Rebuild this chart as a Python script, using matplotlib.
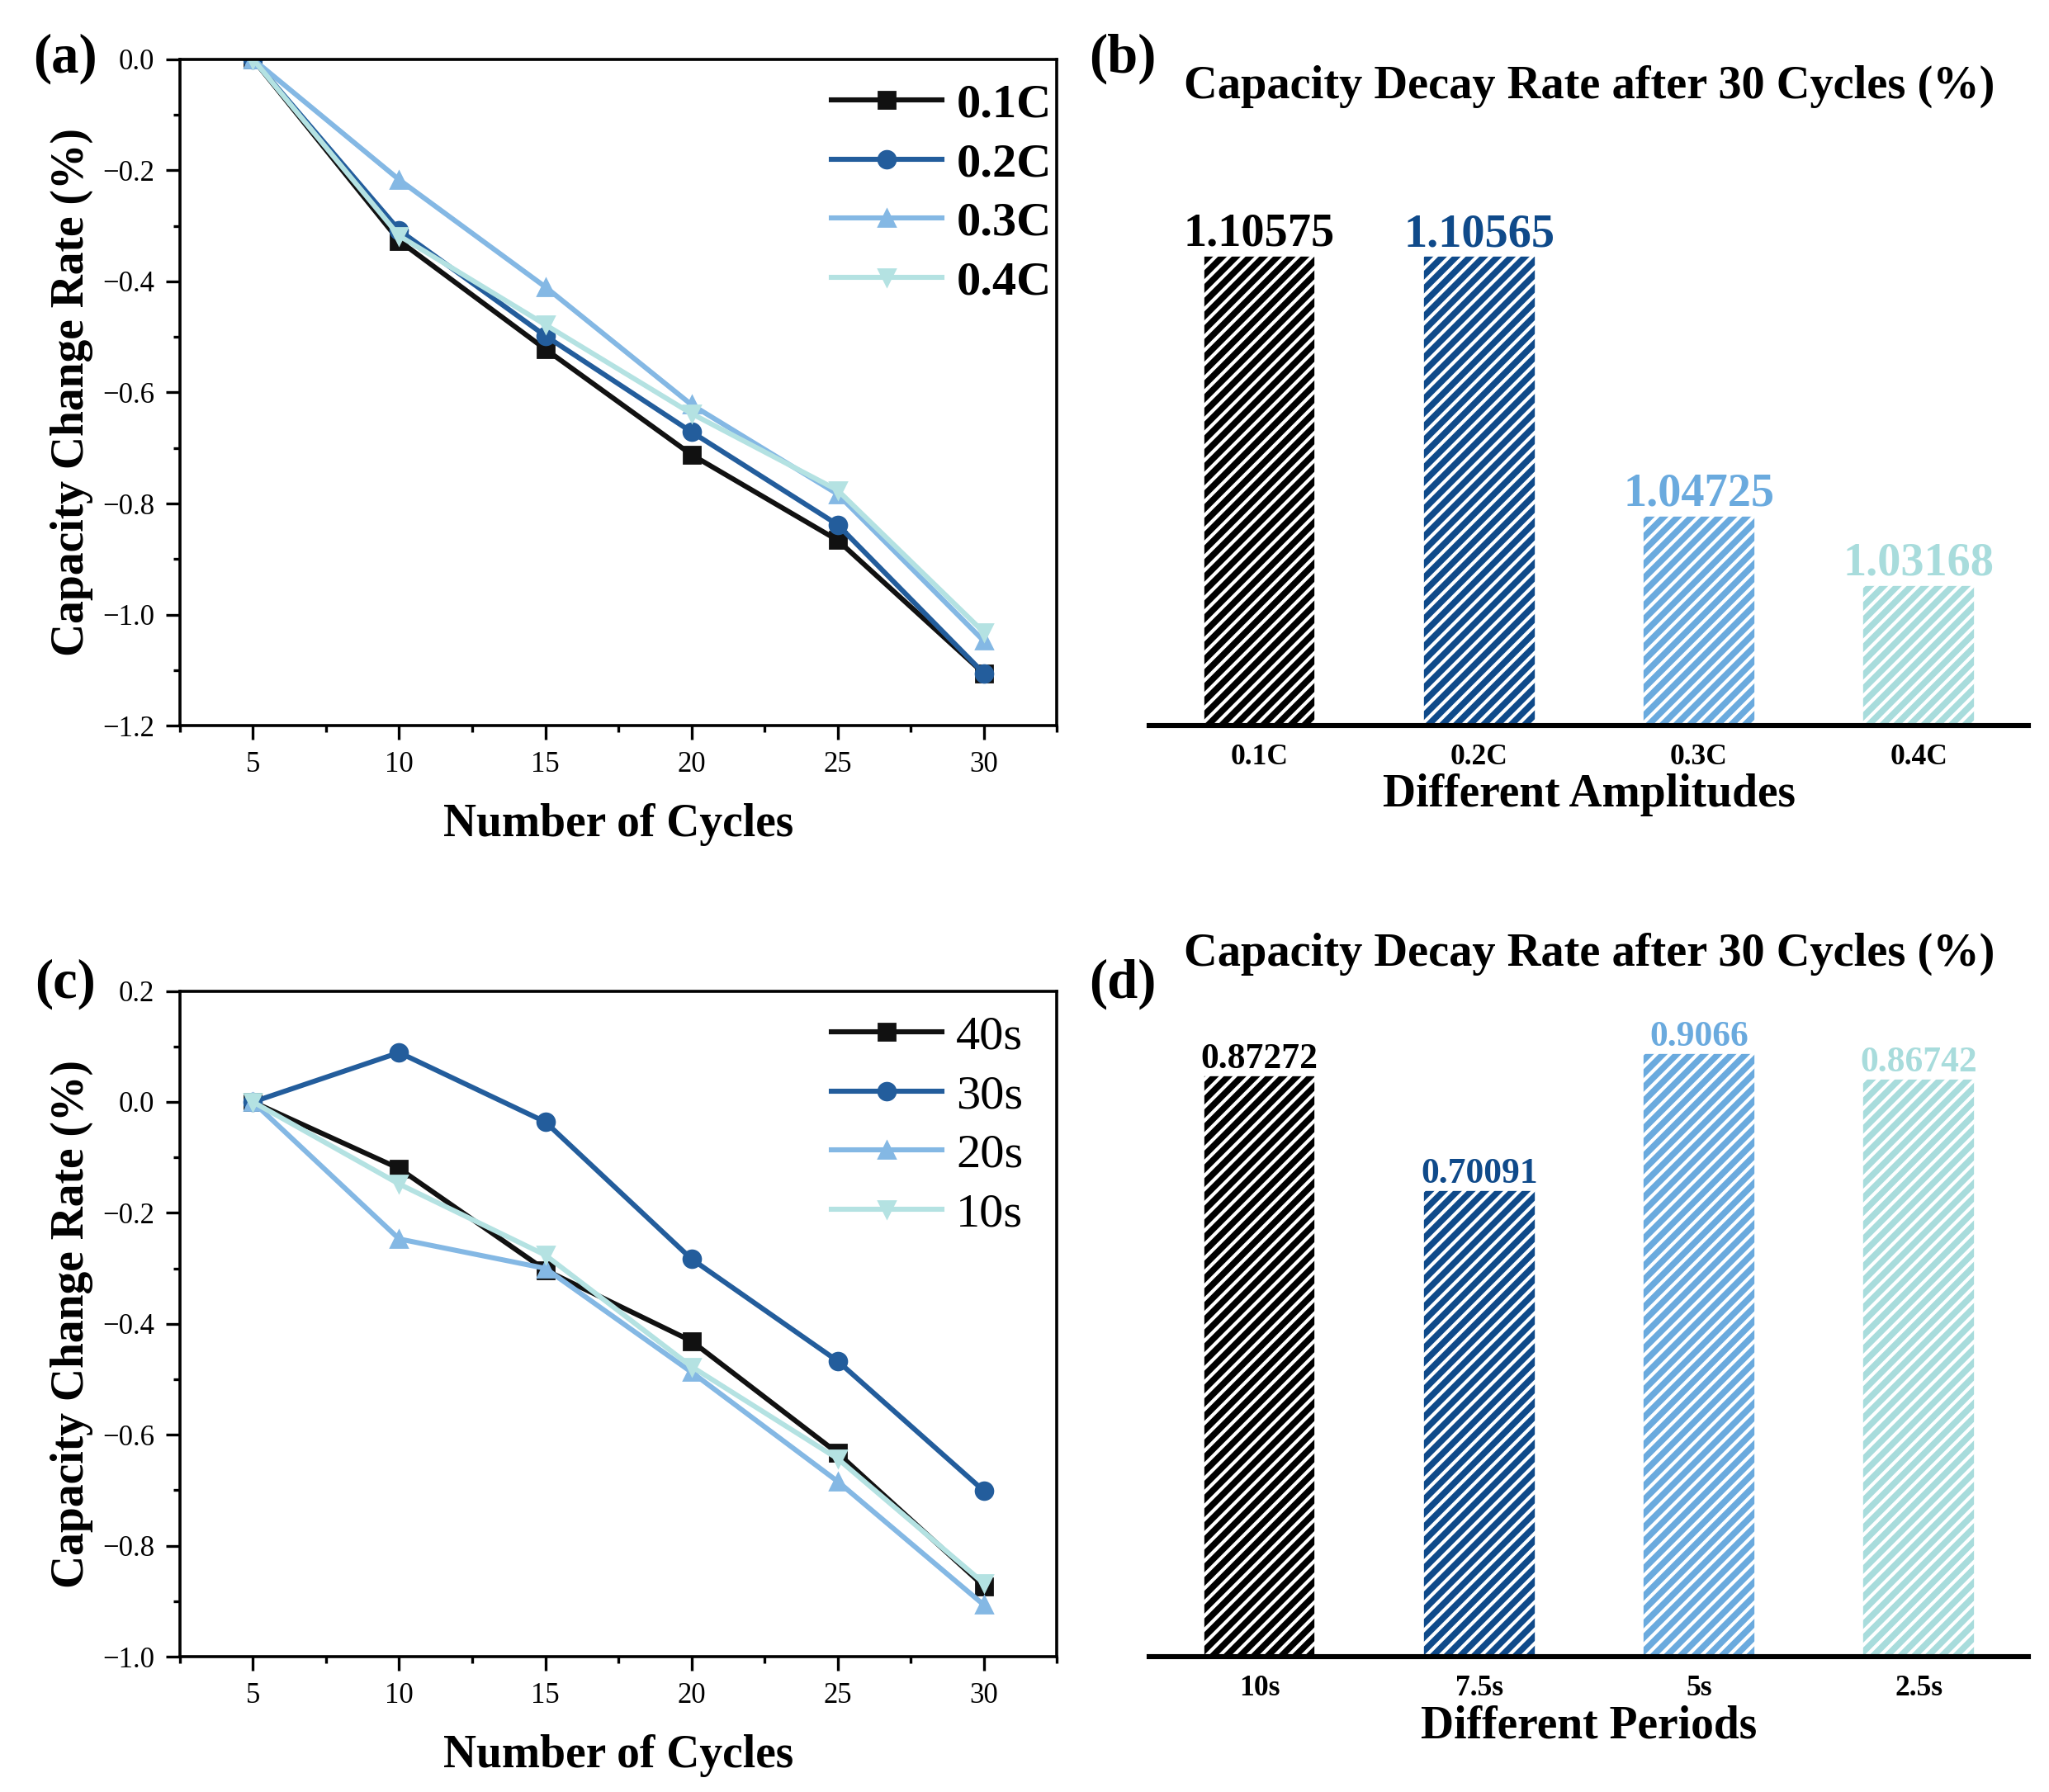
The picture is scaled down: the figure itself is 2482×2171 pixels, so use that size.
import numpy as np
import matplotlib
matplotlib.use('Agg')
import matplotlib.pyplot as plt
from matplotlib.ticker import MultipleLocator

plt.rcParams['font.family'] = ['Liberation Serif', 'DejaVu Serif']
plt.rcParams['hatch.color'] = 'white'
plt.rcParams['hatch.linewidth'] = 1.5

# ---- data ----
cycles = [5, 10, 15, 20, 25, 30]

amp_labels = ['0.1C', '0.2C', '0.3C', '0.4C']
amp_01 = [0.0, -0.327, -0.522, -0.712, -0.866, -1.10575]
amp_02 = [0.0, -0.308, -0.498, -0.671, -0.838, -1.10565]
amp_03 = [0.0, -0.217, -0.410, -0.622, -0.783, -1.04725]
amp_04 = [0.0, -0.318, -0.478, -0.638, -0.776, -1.03168]
amp_decay = [1.10575, 1.10565, 1.04725, 1.03168]

per_labels = ['40s', '30s', '20s', '10s']
per_40 = [0.0, -0.120, -0.303, -0.431, -0.633, -0.87272]
per_30 = [0.0, 0.089, -0.036, -0.283, -0.467, -0.70091]
per_20 = [0.0, -0.247, -0.300, -0.487, -0.684, -0.9066]
per_10 = [0.0, -0.148, -0.276, -0.477, -0.643, -0.86742]
per_bar_labels = ['10s', '7.5s', '5s', '2.5s']
per_decay = [0.87272, 0.70091, 0.9066, 0.86742]

line_colors = ['#111111', '#235d9c', '#84b8e4', '#b4e2e2']
bar_colors = ['#000000', '#0f4a8a', '#6aaade', '#a8dcdc']
markers = ['s', 'o', '^', 'v']


def line_panel(ax, series, labels, ylim, legend_bold):
    for s, lab, c, m in zip(series, labels, line_colors, markers):
        ax.plot(cycles, s, color=c, marker=m, markersize=7.5, lw=2.2, label=lab)
    ax.set_xlim(2.5, 32.5)
    ax.set_ylim(*ylim)
    ax.xaxis.set_major_locator(MultipleLocator(5))
    ax.xaxis.set_minor_locator(MultipleLocator(2.5))
    ax.yaxis.set_major_locator(MultipleLocator(0.2))
    ax.yaxis.set_minor_locator(MultipleLocator(0.1))
    ax.tick_params(which='major', direction='out', length=6, width=1.2, labelsize=12.5, pad=5)
    ax.tick_params(which='minor', direction='out', length=3, width=1.2)
    for sp in ax.spines.values():
        sp.set_linewidth(1.3)
    ax.set_xlabel('Number of Cycles', fontsize=20, fontweight='bold', labelpad=11)
    ax.set_ylabel('Capacity Change Rate (%)', fontsize=20, fontweight='bold', labelpad=4)
    ax.legend(loc='upper left', bbox_to_anchor=(0.715, 1.0), frameon=False,
              borderpad=0, handlelength=2.3, handletextpad=0.3, labelspacing=0.32,
              prop={'size': 21, 'weight': 'bold' if legend_bold else 'normal'})


def bar_panel(ax, values, ticklabels, ylim, xlabel, title, title_y, value_size):
    x = np.arange(len(values))
    ax.bar(x, values, width=0.51, color=bar_colors, edgecolor='white', linewidth=0.6,
           hatch='////')
    ax.set_xlim(-0.5, 3.5)
    ax.set_ylim(*ylim)
    for xi, v, c in zip(x, values, bar_colors):
        ax.text(xi, v, f'{v:g}', ha='center', va='bottom', color=c,
                fontsize=value_size, fontweight='bold')
    for sp in ['left', 'top', 'right']:
        ax.spines[sp].set_visible(False)
    ax.spines['bottom'].set_linewidth(2.2)
    ax.set_yticks([])
    ax.set_xticks(x)
    ax.set_xticklabels(ticklabels, fontsize=12.8, fontweight='bold')
    ax.tick_params(axis='x', length=0, pad=8)
    ax.set_xlabel(xlabel, fontsize=20, fontweight='bold', labelpad=1)
    ax.text(0.5, title_y, title, transform=ax.transAxes, ha='center', va='center',
            fontsize=20.3, fontweight='bold')


fig = plt.figure(figsize=(12.41, 10.855), dpi=200)
ax_a = fig.add_axes([0.0878, 0.595, 0.428, 0.372])
ax_b = fig.add_axes([0.561, 0.595, 0.429, 0.372])
ax_c = fig.add_axes([0.0878, 0.0755, 0.428, 0.3715])
ax_d = fig.add_axes([0.561, 0.0755, 0.429, 0.3715])

line_panel(ax_a, [amp_01, amp_02, amp_03, amp_04], amp_labels, (-1.2, 0.0), True)
line_panel(ax_c, [per_40, per_30, per_20, per_10], per_labels, (-1.0, 0.2), False)

title = 'Capacity Decay Rate after 30 Cycles (%)'
bar_panel(ax_b, amp_decay, amp_labels, (1.0, 1.15), 'Different Amplitudes', title, 0.959, 20.3)
bar_panel(ax_d, per_decay, per_bar_labels, (0.0, 1.0), 'Different Periods', title, 1.055, 15.7)

for lab, xx, yy in [('(a)', 0.032, 0.967), ('(b)', 0.548, 0.967),
                    ('(c)', 0.032, 0.451), ('(d)', 0.548, 0.451)]:
    fig.text(xx, yy, lab, ha='center', va='center', fontsize=24, fontweight='bold')

fig.savefig('out.png', dpi=200)
